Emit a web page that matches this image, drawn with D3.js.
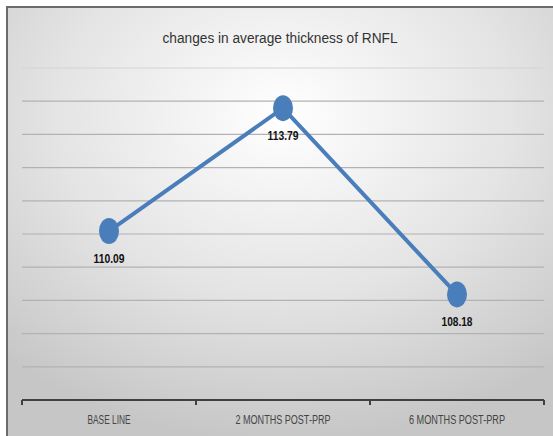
<!DOCTYPE html>
<html><head><meta charset="utf-8">
<script src="https://cdn.jsdelivr.net/npm/d3@7"></script>
<style>html,body{margin:0;padding:0;background:#fff;overflow:hidden}</style>
</head><body>
<svg id="c" width="553" height="436"></svg>
<script>
const categories = ["BASE LINE", "2 MONTHS POST-PRP", "6 MONTHS POST-PRP"];
const values = [110.09, 113.79, 108.18];
const labels = ["110.09", "113.79", "108.18"];
const yTicks = [106, 107, 108, 109, 110, 111, 112, 113, 114, 115];
const title = "changes in average thickness of RNFL";

const svg = d3.select("#c");
const W = 553, H = 436;
const FONT = "'Liberation Sans Narrow','Arial Narrow','Liberation Sans',sans-serif";
const defs = svg.append("defs");
const g = defs.append("radialGradient").attr("id","bg")
  .attr("cx","50%").attr("cy","25%").attr("r","75%");
g.append("stop").attr("offset","0%").attr("stop-color","#ffffff");
g.append("stop").attr("offset","55%").attr("stop-color","#e4e4e4");
g.append("stop").attr("offset","100%").attr("stop-color","#c6c6c6");

svg.append("rect").attr("x",7).attr("y",7).attr("width",W).attr("height",H)
  .attr("fill","url(#bg)");
svg.append("line").attr("x1",7).attr("x2",7).attr("y1",7).attr("y2",H)
  .attr("stroke","#6a6a6a").attr("stroke-width",2);
svg.append("line").attr("x1",6).attr("x2",W).attr("y1",7).attr("y2",7)
  .attr("stroke","#6a6a6a").attr("stroke-width",2);

const x = d3.scaleBand().domain(categories).range([22, 544]);
const y = d3.scaleLinear().domain([105, 115]).range([400, 68]);

// gridlines
svg.append("g").selectAll("line").data(yTicks).join("line")
  .attr("x1",22).attr("x2",544)
  .attr("y1",d=>y(d)).attr("y2",d=>y(d))
  .attr("stroke",d=>d===115?"#d4d4d4":"#b2b2b2").attr("stroke-width",1.2);

// x axis
const xa = svg.append("g").attr("transform",`translate(0,${y(105)})`)
  .call(d3.axisBottom(x).tickSize(0).tickSizeOuter(0));
xa.select(".domain").remove();
xa.append("line").attr("x1",22).attr("x2",544).attr("stroke","#404040").attr("stroke-width",2.2);
const bounds = [22].concat(categories.map(c=>x(c)+x.bandwidth()));
xa.selectAll(".tk").data(bounds).join("line").attr("class","tk")
  .attr("x1",d=>d).attr("x2",d=>d).attr("y1",0).attr("y2",5)
  .attr("stroke","#404040").attr("stroke-width",2);
const catW = [43, 95, 96];
xa.selectAll(".tick text").attr("dy",0).attr("y",24)
  .attr("font-family",FONT)
  .attr("font-size",12).attr("fill","#444")
  .attr("textLength",(d,i)=>catW[i]).attr("lengthAdjust","spacingAndGlyphs");

// title
svg.append("text").attr("x",280).attr("y",43).attr("text-anchor","middle")
  .attr("font-family",FONT)
  .attr("font-size",15.5).attr("fill","#333")
  .attr("textLength",235).attr("lengthAdjust","spacingAndGlyphs").text(title);

// line
const cx = c => x(c) + x.bandwidth()/2;
const line = d3.line().x((d,i)=>cx(categories[i])).y(d=>y(d));
svg.append("path").datum(values).attr("d",line)
  .attr("fill","none").attr("stroke","#4a7ebb").attr("stroke-width",4);
svg.append("g").selectAll("ellipse").data(values).join("ellipse")
  .attr("cx",(d,i)=>cx(categories[i])).attr("cy",d=>y(d))
  .attr("rx",10).attr("ry",13).attr("fill","#4a7ebb");
svg.append("g").selectAll("text").data(values).join("text")
  .attr("x",(d,i)=>cx(categories[i])).attr("y",d=>y(d)+32)
  .attr("text-anchor","middle")
  .attr("font-family",FONT)
  .attr("font-weight","bold").attr("font-size",13).attr("fill","#111")
  .attr("textLength",31).attr("lengthAdjust","spacingAndGlyphs")
  .text((d,i)=>labels[i]);
</script>
</body></html>
